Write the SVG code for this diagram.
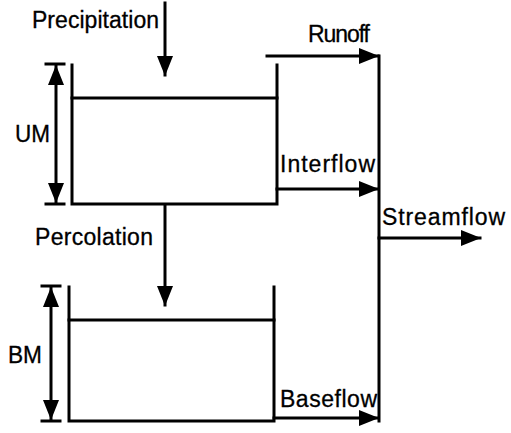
<svg xmlns="http://www.w3.org/2000/svg" width="511" height="433" viewBox="0 0 511 433">
<defs>
<style>
.ln{stroke:#000;stroke-width:3;fill:none;stroke-linecap:square}
.t{font-family:"Liberation Sans",Arial,sans-serif;font-size:23px;fill:#000;stroke:#000;stroke-width:0.3}
.big{font-size:24px}
</style>
<marker id="ah" markerUnits="userSpaceOnUse" markerWidth="20" markerHeight="16" viewBox="0 0 20 16" refX="19" refY="8" orient="auto">
<path d="M0,0 L20,8 L0,16 Z" fill="#000"/>
</marker>
<marker id="ahs" markerUnits="userSpaceOnUse" markerWidth="20" markerHeight="16" viewBox="0 0 20 16" refX="19" refY="8" orient="auto-start-reverse">
<path d="M0,0 L20,8 L0,16 Z" fill="#000"/>
</marker>
</defs>
<rect width="511" height="433" fill="#fff"/>
<g id="upper-tank">
<path class="ln" d="M72,65 V204 H277 V65"/>
<line class="ln" x1="72" y1="98" x2="277" y2="98"/>
<line class="ln" x1="46" y1="64" x2="64" y2="64"/>
<line class="ln" x1="46" y1="204" x2="64" y2="204"/>
<line class="ln" x1="56" y1="66" x2="56" y2="202" marker-start="url(#ahs)" marker-end="url(#ahs)"/>
<text class="t big" x="15" y="142" textLength="35" lengthAdjust="spacingAndGlyphs">UM</text>
</g>
<g id="lower-tank">
<path class="ln" d="M69,287 V421 H274 V287"/>
<line class="ln" x1="69" y1="320" x2="274" y2="320"/>
<line class="ln" x1="42" y1="286" x2="60" y2="286"/>
<line class="ln" x1="42" y1="421" x2="60" y2="421"/>
<line class="ln" x1="51" y1="288" x2="51" y2="419" marker-start="url(#ahs)" marker-end="url(#ahs)"/>
<text class="t big" x="8" y="363" textLength="34" lengthAdjust="spacingAndGlyphs">BM</text>
</g>
<g id="labels">
<text class="t" x="32" y="28" textLength="127" lengthAdjust="spacing">Precipitation</text>
<text class="t" x="308" y="42" textLength="62" lengthAdjust="spacing">Runoff</text>
<text class="t" x="280" y="172" textLength="95" lengthAdjust="spacing">Interflow</text>
<text class="t" x="382" y="225" textLength="123" lengthAdjust="spacing">Streamflow</text>
<text class="t" x="35" y="245" textLength="118" lengthAdjust="spacing">Percolation</text>
<text class="t" x="280" y="407" textLength="97" lengthAdjust="spacing">Baseflow</text>
</g>
<g id="connectors">
<line class="ln" x1="165" y1="3" x2="165" y2="75" marker-end="url(#ah)"/>
<line class="ln" x1="165" y1="205" x2="165" y2="305" marker-end="url(#ah)"/>
<line class="ln" x1="267" y1="56" x2="378" y2="56" marker-end="url(#ah)"/>
<line class="ln" x1="277" y1="189" x2="378" y2="189" marker-end="url(#ah)"/>
<line class="ln" x1="274" y1="418" x2="378" y2="418" marker-end="url(#ah)"/>
<line class="ln" x1="379" y1="56" x2="379" y2="421"/>
<line class="ln" x1="379" y1="238" x2="480" y2="238" marker-end="url(#ah)"/>
</g>
</svg>
